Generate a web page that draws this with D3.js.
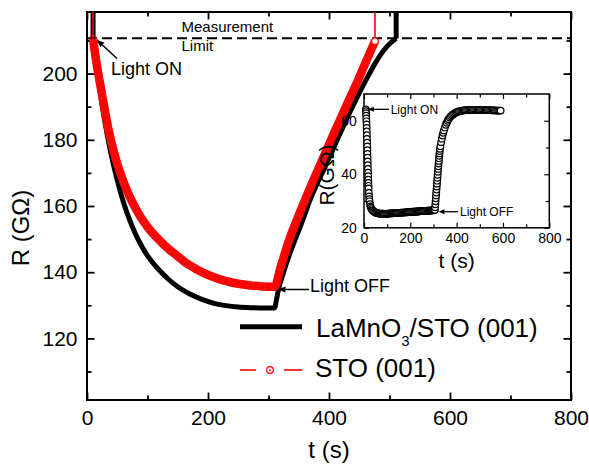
<!DOCTYPE html>
<html lang="en">
<head>
<meta charset="utf-8">
<title>R vs t under light</title>
<script src="https://cdn.jsdelivr.net/npm/d3@7"></script>
<style>
body { margin: 0; background: #fff; }
text { font-family: "Liberation Sans", Arial, sans-serif; fill: #000; }
</style>
</head>
<body>
<script>
// main panel: LaMnO3/STO (001) curve
var lmoTime = [10, 15, 20, 25, 30, 35, 40, 50, 60, 70,
               80, 90, 100, 110, 120, 135, 150, 170, 190, 210,
               230, 250, 270, 290, 310, 313, 316, 325, 335, 345,
               355, 368, 380, 395, 410, 428, 445, 461, 476, 491,
               502, 511];
var lmoR = [210.7, 203.5, 196.8, 190.5, 185, 180, 175.5, 167.8, 161.3, 156,
            151.6, 148, 145, 142.6, 140.5, 137.8, 135.6, 133.4, 131.8, 130.6,
            129.9, 129.5, 129.3, 129.2, 129.2, 131.5, 134.4, 140, 145.5, 150.3,
            155, 161.5, 166.6, 172.4, 178.5, 185.8, 192.3, 198, 203, 207.1,
            209.3, 210.6];

// main panel: STO (001) curve
var stoTime = [10, 15, 20, 25, 30, 35, 40, 50, 60, 70,
               80, 90, 100, 110, 120, 135, 150, 165, 180, 195,
               210, 230, 250, 270, 290, 310, 320, 335, 348, 360,
               372, 385, 400, 418, 433, 448, 462, 476];
var stoR = [210.5, 204, 198.6, 193.5, 188.5, 183.5, 179.5, 172.8, 167.5, 163,
            159.4, 156.3, 153.7, 151.5, 149.6, 147, 144.8, 142.6, 141, 139.6,
            138.5, 137.3, 136.5, 136, 135.7, 135.6, 141.5, 150.2, 156.3, 161.7,
            166.9, 172.3, 178.6, 185.9, 192, 198, 204, 209.8];

var limitR = 210.7;
var xTicks = [0, 200, 400, 600, 800];
var xMinor = [100, 300, 500, 700];
var yTicks = [120, 140, 160, 180, 200];
var yMinor = [110, 130, 150, 170, 190, 210];

// inset: single sample
var insetTime = [8, 8.5, 9, 9.5, 10, 10.5, 11, 11.5, 12, 12.5,
                 13, 13.5, 14, 14.5, 15, 15.5, 16, 16.5, 17, 17.5,
                 18, 18.5, 19, 19.5, 20, 21, 22, 23, 24, 26,
                 28, 30, 33, 36, 40, 44, 48, 52, 56, 60,
                 64, 68, 72, 76, 80, 84, 88, 92, 96, 100,
                 104, 108, 112, 116, 120, 124, 128, 132, 136, 140,
                 144, 148, 152, 156, 160, 164, 168, 172, 176, 180,
                 184, 188, 192, 196, 200, 204, 208, 212, 216, 220,
                 224, 228, 232, 236, 240, 244, 248, 252, 256, 260,
                 264, 268, 272, 276, 280, 284, 288, 292, 296, 300,
                 303, 306, 307, 308, 309, 310, 311, 312, 313, 314,
                 315, 316, 317, 318, 319, 320, 321, 322, 323, 324,
                 325, 326, 327, 328, 330, 333, 336, 339, 342, 345,
                 349, 353, 357, 361, 365, 370, 375, 380, 385, 390,
                 395, 400, 405, 410, 415, 420, 425, 430, 435, 440,
                 445, 450, 455, 460, 465, 470, 475, 480, 485, 490,
                 495, 500, 505, 510, 515, 520, 525, 530, 535, 540,
                 545, 550, 555, 560, 565, 570, 575, 580, 585, 590];
var insetR = [64.2, 63.6, 62.8, 61.9, 60.9, 59.8, 58.6, 57.3, 56.0, 54.6,
              53.2, 51.8, 50.4, 49.0, 47.6, 46.2, 44.8, 43.4, 42.0, 40.6,
              39.3, 38.0, 36.8, 35.7, 34.7, 33.0, 31.7, 30.7, 29.9, 28.8,
              28.0, 27.5, 27.0, 26.6, 26.3, 26.0, 25.8, 25.6, 25.5, 25.4,
              25.3, 25.3, 25.3, 25.3, 25.3, 25.3, 25.2, 25.2, 25.2, 25.3,
              25.3, 25.3, 25.4, 25.4, 25.4, 25.4, 25.5, 25.5, 25.5, 25.5,
              25.6, 25.6, 25.6, 25.6, 25.7, 25.7, 25.7, 25.7, 25.8, 25.8,
              25.8, 25.8, 25.9, 25.9, 25.9, 25.9, 26.0, 26.0, 26.0, 26.0,
              26.1, 26.1, 26.1, 26.1, 26.2, 26.2, 26.2, 26.2, 26.3, 26.3,
              26.3, 26.3, 26.4, 26.4, 26.4, 26.4, 26.5, 26.5, 26.5, 26.6,
              26.6, 26.7, 27.7, 28.8, 29.9, 31.0, 32.1, 33.2, 34.3, 35.4,
              36.5, 37.6, 38.7, 39.8, 40.9, 42.0, 43.0, 44.0, 45.0, 46.0,
              46.9, 47.8, 48.7, 49.5, 50.5, 52.0, 53.3, 54.5, 55.5, 56.4,
              57.5, 58.5, 59.3, 60.0, 60.6, 61.2, 61.7, 62.1, 62.4, 62.7,
              63.0, 63.2, 63.4, 63.5, 63.6, 63.7, 63.8, 63.9, 63.9, 64.0,
              64.0, 64.0, 64.1, 64.1, 64.1, 64.1, 64.1, 64.1, 64.1, 64.1,
              64.1, 64.1, 64.1, 64.1, 64.1, 64.1, 64.0, 64.0, 64.0, 64.0,
              64.0, 63.9, 63.9, 63.9, 63.9, 63.8, 63.8, 63.8, 63.8, 63.8];
var insetXTicks = [0, 200, 400, 600, 800];
var insetXMinor = [100, 300, 500, 700];
var insetYTicks = [20, 40, 60];
var insetYMinor = [30, 50];

var w = 589, h = 464;
var svg = d3.select("body").append("svg")
            .attr("width", w)
            .attr("height", h);

var L = 87, R = 571, T = 12, B = 400;
var x = d3.scaleLinear().domain([0, 800]).range([L, R]);
var y = d3.scaleLinear().domain([101.4, 218.6]).range([B, T]);

svg.append("clipPath").attr("id", "plotclip")
   .append("rect").attr("x", L).attr("y", T).attr("width", R - L).attr("height", B - T);

//axes helper
function drawAxis(axis, tx, ty, fontSize, sw) {
	var g = svg.append("g")
	           .attr("transform", "translate(" + tx + "," + ty + ")")
	           .call(axis);
	g.attr("font-family", null).attr("font-size", fontSize);
	g.select(".domain").remove();
	g.selectAll("line").attr("stroke", "#000").attr("stroke-width", sw);
	return g;
}

drawAxis(d3.axisBottom(x).tickValues(xTicks).tickSize(-7.5).tickPadding(10.5).tickSizeOuter(0), 0, B, 21, 1.8);
drawAxis(d3.axisBottom(x).tickValues(xMinor).tickSize(-4.5).tickFormat(""), 0, B, 21, 1.8);
drawAxis(d3.axisTop(x).tickValues(xTicks).tickSize(-7.5).tickFormat(""), 0, T, 21, 1.8);
drawAxis(d3.axisTop(x).tickValues(xMinor).tickSize(-4.5).tickFormat(""), 0, T, 21, 1.8);
drawAxis(d3.axisLeft(y).tickValues(yTicks).tickSize(-7.5).tickPadding(9.5), L, 0, 21, 1.8);
drawAxis(d3.axisLeft(y).tickValues(yMinor).tickSize(-4.5).tickFormat(""), L, 0, 21, 1.8);
drawAxis(d3.axisRight(y).tickValues(yTicks).tickSize(-7.5).tickFormat(""), R, 0, 21, 1.8);
drawAxis(d3.axisRight(y).tickValues(yMinor).tickSize(-4.5).tickFormat(""), R, 0, 21, 1.8);

svg.append("rect")
   .attr("x", L).attr("y", T)
   .attr("width", R - L).attr("height", B - T)
   .attr("fill", "none").attr("stroke", "#000").attr("stroke-width", 2);

// axis titles
svg.append("text").attr("x", (L + R) / 2).attr("y", 458)
   .attr("text-anchor", "middle").attr("font-size", 24).text("t (s)");
svg.append("text").attr("transform", "translate(29,228) rotate(-90)")
   .attr("text-anchor", "middle").attr("font-size", 24).text("R (G\u03A9)");

// measurement limit
svg.append("line")
   .attr("x1", L).attr("x2", R)
   .attr("y1", y(limitR)).attr("y2", y(limitR))
   .attr("stroke", "#000").attr("stroke-width", 2)
   .attr("stroke-dasharray", "10,5");
svg.append("text").attr("x", 181.5).attr("y", 32).attr("font-size", 15).text("Measurement");
svg.append("text").attr("x", 181.5).attr("y", 50.5).attr("font-size", 15).text("Limit");

var plot = svg.append("g").attr("clip-path", "url(#plotclip)");
var yTop = y.domain()[1];

var line = d3.line()
             .x(function(d) { return x(d[0]); })
             .y(function(d) { return y(d[1]); })
             .curve(d3.curveMonotoneX);

var lmoData = lmoTime.map(function(t, i) { return [t, lmoR[i]]; });
var stoData = stoTime.map(function(t, i) { return [t, stoR[i]]; });

// LaMnO3/STO: off scale before and after, then the measured curve
var lmoFirst = lmoData[0], lmoLast = lmoData[lmoData.length - 1];
plot.append("path")
    .attr("d", d3.line()([[x(lmoFirst[0]), y(yTop)], [x(lmoFirst[0]), y(lmoFirst[1])]]))
    .attr("stroke", "#000").attr("stroke-width", 5).attr("fill", "none");
plot.append("path")
    .attr("d", d3.line()([[x(lmoLast[0]), y(lmoLast[1])], [x(lmoLast[0]), y(yTop)]]))
    .attr("stroke", "#000").attr("stroke-width", 5).attr("fill", "none");
plot.append("path")
    .datum(lmoData)
    .attr("d", line)
    .attr("stroke", "#000").attr("stroke-width", 5)
    .attr("stroke-linejoin", "round").attr("fill", "none");

// STO: red line + open circles
var stoFirst = stoData[0], stoLast = stoData[stoData.length - 1];
plot.append("path")
    .attr("d", d3.line()([[x(stoFirst[0]), y(yTop)], [x(stoFirst[0]), y(stoFirst[1])]]))
    .attr("stroke", "#ff0000").attr("stroke-width", 1.6).attr("fill", "none");
plot.append("path")
    .attr("d", d3.line()([[x(stoLast[0]), y(stoLast[1])], [x(stoLast[0]), y(yTop)]]))
    .attr("stroke", "#ff0000").attr("stroke-width", 1.6).attr("fill", "none");
plot.append("path")
    .datum(stoData)
    .attr("d", line)
    .attr("stroke", "#ff0000").attr("stroke-width", 8.5)
    .attr("stroke-linejoin", "round").attr("fill", "none");
plot.selectAll("circle.sto")
    .data(stoData)
    .enter()
    .append("circle")
    .attr("class", "sto")
    .attr("cx", function(d) { return x(d[0]); })
    .attr("cy", function(d) { return y(d[1]); })
    .attr("r", 3.3)
    .attr("fill", function(d, i) { return i === stoData.length - 1 ? "#fff" : "none"; })
    .attr("stroke", function(d, i) { return i === stoData.length - 1 ? "#ff0000" : "#e81818"; })
    .attr("stroke-width", 1.2);

// arrows
function arrow(x1, y1, x2, y2, len, wid, sw) {
	var a = Math.atan2(y2 - y1, x2 - x1);
	var bx = x2 - len * Math.cos(a), by = y2 - len * Math.sin(a);
	var px = -Math.sin(a) * wid / 2, py = Math.cos(a) * wid / 2;
	svg.append("line").attr("x1", x1).attr("y1", y1).attr("x2", bx).attr("y2", by)
	   .attr("stroke", "#000").attr("stroke-width", sw);
	svg.append("path")
	   .attr("d", "M" + x2 + "," + y2 + "L" + (bx + px) + "," + (by + py) + "L" + (bx - px) + "," + (by - py) + "Z")
	   .attr("fill", "#000");
}

arrow(117, 58.5, 96.5, 39.5, 8, 6, 1.5);
svg.append("text").attr("x", 111).attr("y", 75).attr("font-size", 18).text("Light ON");
arrow(309, 289.5, 277.5, 289.5, 8, 6, 1.5);
svg.append("text").attr("x", 310).attr("y", 292).attr("font-size", 18).text("Light OFF");

// legend
svg.append("line").attr("x1", 240).attr("x2", 302).attr("y1", 326.7).attr("y2", 326.7)
   .attr("stroke", "#000").attr("stroke-width", 5);
var lg = svg.append("text").attr("x", 316).attr("y", 336.7).attr("font-size", 26);
lg.append("tspan").text("LaMnO");
lg.append("tspan").attr("font-size", 15).attr("dy", 9).text("3");
lg.append("tspan").attr("dy", -9).text("/STO (001)");

svg.append("line").attr("x1", 240).attr("x2", 256).attr("y1", 370).attr("y2", 370)
   .attr("stroke", "#ff0000").attr("stroke-width", 1.6);
svg.append("line").attr("x1", 284).attr("x2", 302).attr("y1", 370).attr("y2", 370)
   .attr("stroke", "#ff0000").attr("stroke-width", 1.6);
svg.append("circle").attr("cx", 270).attr("cy", 370).attr("r", 3.3)
   .attr("fill", "#fff").attr("stroke", "#ff0000").attr("stroke-width", 1.2);
svg.append("circle").attr("cx", 270).attr("cy", 370).attr("r", 0.9).attr("fill", "#ff0000");
svg.append("text").attr("x", 315).attr("y", 376.7).attr("font-size", 26).text("STO (001)");

// inset
var iL = 364, iR = 549.3, iT = 94, iB = 227.8;
var ix = d3.scaleLinear().domain([0, 800]).range([iL, iR]);
var iy = d3.scaleLinear().domain([20, 70]).range([iB, iT]);

svg.append("rect")
   .attr("x", iL).attr("y", iT).attr("width", iR - iL).attr("height", iB - iT)
   .attr("fill", "#fff");

drawAxis(d3.axisBottom(ix).tickValues(insetXTicks).tickSize(-5).tickPadding(5.5).tickSizeOuter(0), 0, iB, 14, 1.2);
drawAxis(d3.axisBottom(ix).tickValues(insetXMinor).tickSize(-3.5).tickFormat(""), 0, iB, 14, 1.2);
drawAxis(d3.axisTop(ix).tickValues(insetXTicks).tickSize(-5).tickFormat(""), 0, iT, 14, 1.2);
drawAxis(d3.axisTop(ix).tickValues(insetXMinor).tickSize(-3.5).tickFormat(""), 0, iT, 14, 1.2);
drawAxis(d3.axisLeft(iy).tickValues(insetYTicks).tickSize(-5).tickPadding(7.3), iL, 0, 14, 1.2);
drawAxis(d3.axisLeft(iy).tickValues(insetYMinor).tickSize(-3.5).tickFormat(""), iL, 0, 14, 1.2);
drawAxis(d3.axisRight(iy).tickValues(insetYTicks).tickSize(-5).tickFormat(""), iR, 0, 14, 1.2);
drawAxis(d3.axisRight(iy).tickValues(insetYMinor).tickSize(-3.5).tickFormat(""), iR, 0, 14, 1.2);

svg.append("rect")
   .attr("x", iL).attr("y", iT).attr("width", iR - iL).attr("height", iB - iT)
   .attr("fill", "none").attr("stroke", "#000").attr("stroke-width", 1.5);

svg.selectAll("circle.inset")
   .data(insetTime)
   .enter()
   .append("circle")
   .attr("class", "inset")
   .attr("cx", function(d) { return ix(d); })
   .attr("cy", function(d, i) { return iy(insetR[i]); })
   .attr("r", 3.3)
   .attr("fill", "#fff")
   .attr("stroke", "#000")
   .attr("stroke-width", 1.2);

svg.append("text").attr("x", (iL + iR) / 2).attr("y", 268)
   .attr("text-anchor", "middle").attr("font-size", 21).text("t (s)");
svg.append("text").attr("transform", "translate(334,175) rotate(-90)")
   .attr("text-anchor", "middle").attr("font-size", 21).text("R(G\u03A9)");

arrow(389, 109.3, 368, 109.3, 6, 5, 1.3);
svg.append("text").attr("x", 390.7).attr("y", 113.5).attr("font-size", 12).text("Light ON");
arrow(458, 211.7, 438.5, 211.7, 6, 5, 1.3);
svg.append("text").attr("x", 460).attr("y", 216).attr("font-size", 12).text("Light OFF");
</script>
</body>
</html>
